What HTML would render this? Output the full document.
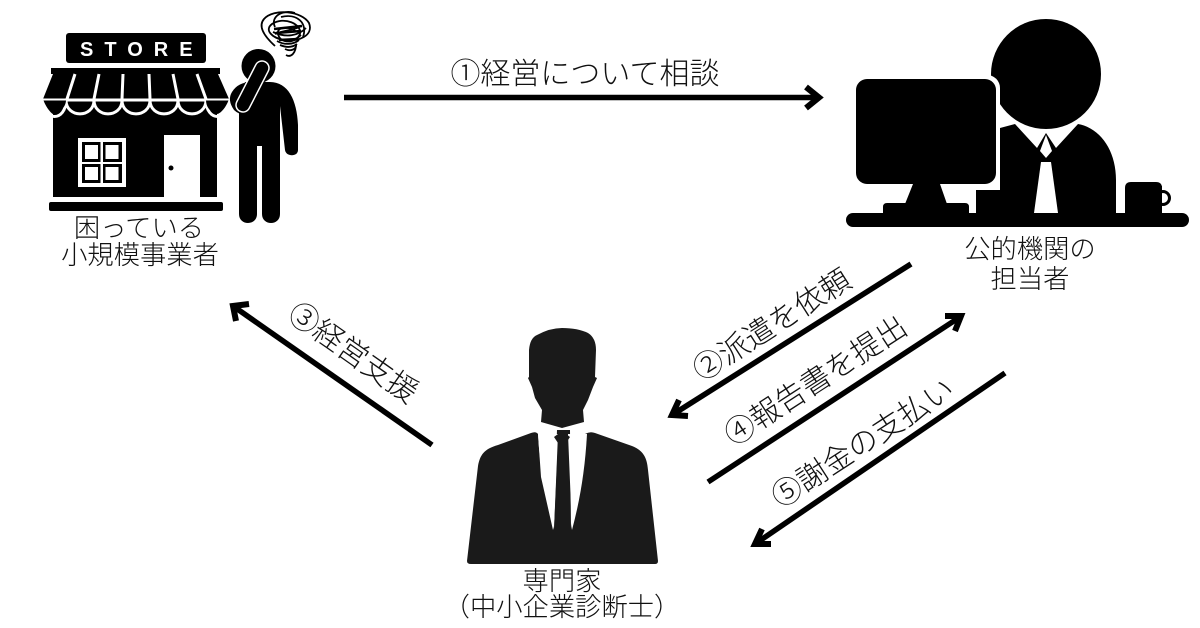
<!DOCTYPE html>
<html><head><meta charset="utf-8"><style>
html,body{margin:0;padding:0;background:#fff;width:1200px;height:628px;overflow:hidden}
svg{display:block}
text{font-family:"Liberation Sans","Noto Sans CJK JP",sans-serif;fill:#111;font-weight:300}
.r{font-weight:400}
</style></head><body>
<svg width="1200" height="628" viewBox="0 0 1200 628" xmlns="http://www.w3.org/2000/svg">
<!-- store -->
<rect x="66" y="33" width="140" height="30" rx="3" fill="#000"/>
<text x="80" y="56" font-size="20" style="fill:#fff;font-weight:700;font-family:'Liberation Sans',sans-serif" letter-spacing="11">STORE</text>
<rect x="51" y="68" width="169" height="6" fill="#000"/>
<path d="M53 74H218L229 99H43Z" fill="#000"/>
<rect x="53" y="104" width="164" height="93" fill="#000"/>
<g fill="#000" stroke="#fff" stroke-width="3">
<path d="M43 100H66C66 122 43 122 43 100Z" stroke-linejoin="round"/>
<path d="M66 100H94C94 118.500 66 118.500 66 100Z"/>
<path d="M94 100H122C122 118.500 94 118.500 94 100Z"/>
<path d="M122 100H150C150 118.500 122 118.500 122 100Z"/>
<path d="M150 100H178C178 118.500 150 118.500 150 100Z"/>
<path d="M178 100H206C206 118.500 178 118.500 178 100Z"/>
<path d="M206 100H229C229 122 206 122 206 100Z"/>
</g>
<rect x="40" y="99" width="13" height="24" fill="#fff"/>
<rect x="217" y="99" width="14" height="24" fill="#fff"/>
<path d="M43 99C46 108 52 114 53 114C60 112 66 107 66 100H43Z" fill="#000"/>
<path d="M229 99C226 108 220 114 217 114C210 112 206 107 206 100H229Z" fill="#000"/>
<path d="M75 74L67 99M99 74L94 99M123 74L122 99M149 74L150 99M173 74L178 99M197 74L206 99" stroke="#fff" stroke-width="3" fill="none"/>
<path d="M42 99.500H230" stroke="#fff" stroke-width="2"/>
<rect x="78" y="138" width="48" height="49" fill="#fff"/>
<rect x="82" y="142" width="18.500" height="20" fill="#000"/><rect x="103" y="142" width="19" height="20" fill="#000"/>
<rect x="82" y="164" width="18.500" height="19" fill="#000"/><rect x="103" y="164" width="19" height="19" fill="#000"/>
<rect x="85" y="145" width="13" height="14" fill="#fff"/><rect x="105.500" y="145" width="13" height="14" fill="#fff"/>
<rect x="85" y="167" width="13" height="13" fill="#fff"/><rect x="105.500" y="167" width="13" height="13" fill="#fff"/>
<rect x="164" y="135" width="36" height="62" fill="#fff"/>
<circle cx="171" cy="168" r="2.500" fill="#000"/>
<rect x="49" y="202" width="174" height="9" rx="2" fill="#000"/>
<!-- worried person -->
<circle cx="258.500" cy="66" r="17" fill="#000"/>
<path d="M239 100V214C239 226 257 226 257 214V146H262V214C262 226 280 226 280 214V106L285 150C286 157 298 157 298 150V125C297 100 288 82 270 82H245Z" fill="#000"/>
<path d="M232 92Q238 82 252 82L250 115Q240 116 234 110Q227 100 232 92Z" fill="#000"/>
<path d="M243 105L262 68" stroke="#fff" stroke-width="15.500" stroke-linecap="round" fill="none"/>
<path d="M243 105L262 68" stroke="#000" stroke-width="12.500" stroke-linecap="round" fill="none"/>
<g fill="none" stroke="#000" stroke-width="1.800">
<path d="M275 46C264 36 258 26 264 19C274 8 302 11 309 23C314 36 298 42 284 40C272 38 264 30 272 24C284 16 302 24 300 34C296 44 280 44 278 34C276 26 292 26 296 32"/>
<path d="M275 27C270 17 282 9 295 13M281 17C297 13 308 23 303 37M273 32C286 38 298 36 306 28M275 34C284 30 296 30 301 26"/>
<path d="M275 37C284 42 294 42 301 35M277 41C284 45 293 45 299 40M280 45C287 48 293 47 297 44M285 49C291 52 297 49 296 44C296 53 291 58 286 55"/>
</g>
<path d="M274 29L302 26M276 33L301 31M279 40L298 39" stroke="#000" stroke-width="2.500" fill="none"/>
<!-- official -->
<path d="M976 213V190H1000V128L1015 124H1078C1100 128 1116 150 1116 180V213Z" fill="#000"/>
<path d="M1015 124L1037 148L1046 133L1056 148L1078 124Z" fill="#fff"/>
<path d="M1046 135L1040 151L1046 158L1052 151Z" fill="#fff"/>
<path d="M1041 162H1051L1058 213H1034Z" fill="#fff"/>
<circle cx="1046" cy="74" r="55" fill="#000"/>
<rect x="852" y="75" width="148" height="113" rx="13" fill="#fff"/>
<rect x="856" y="79" width="140" height="105" rx="11" fill="#000"/>
<path d="M913 184H940L947 204H905Z" fill="#000"/>
<path d="M883 213V207Q883 203 887 203H965Q969 203 969 207V213Z" fill="#000"/>
<rect x="846" y="213" width="343" height="14" rx="7" fill="#000"/>
<path d="M1125 213V188Q1125 182 1131 182H1156Q1162 182 1162 188V213Z" fill="#000"/>
<circle cx="1163" cy="198" r="6.500" fill="#fff" stroke="#000" stroke-width="3"/>
<rect x="1150" y="186" width="12" height="27" fill="#000"/>
<!-- expert -->
<path d="M529 350Q530 338 537 335Q550 328 562 328Q578 328 588 333Q596 338 596 350L595 377L597 378L593 387L588 400L583 410L584 422L562 428L541 422L542 410L535 398L532 387L528 378L529 377Z" fill="#1a1a1a"/>
<path d="M467 561L478 466C480 455 484 449 498 445L531 433Q536 431 538 434L541 477L553 530L557 430H570L571 530L585 434Q590 431 595 433L632 446C642 450 647 456 648 470L658 561Q658 564 655 564H471Q467 564 467 561Z" fill="#1a1a1a"/>
<path d="M538 434H558L554 530C546 500 540 470 538 434Z" fill="#fff"/>
<path d="M587 434H568L572 530C580 500 585 470 587 434Z" fill="#fff"/>
<path d="M562 431L570 437L566 443L571 530H554L558 443L554 437Z" fill="#1a1a1a"/>
<!-- arrows -->
<g fill="none" stroke="#000" stroke-width="5.500" stroke-linejoin="miter">
<path d="M344 97.500H818"/><path d="M806 87L819 97.500L806 108" stroke-width="6"/>
<path d="M911 264L672 415"/><path d="M688 416L672 415L679 400" stroke-width="6"/>
<path d="M708 482L960 317"/><path d="M945 316L961 316L955 331" stroke-width="6"/>
<path d="M1005 373L755 544"/><path d="M771 544L755 544L762 529" stroke-width="6"/>
<path d="M432 445L233 306"/><path d="M249 304L233 306L236 321" stroke-width="6"/>
</g>
<!-- labels -->
<g font-size="26.300" text-anchor="middle">
<text x="139" y="237">困っている</text>
<text x="140" y="264">小規模事業者</text>
<text x="1030" y="258">公的機関の</text>
<text x="1030" y="288">担当者</text>
<text x="562" y="590">専門家</text>
<text x="562" y="616">（中小企業診断士）</text>
</g>
<g font-size="30" text-anchor="middle" class="r">
<text x="585" y="84">①経営について相談</text>
<text transform="translate(772 325) rotate(-32.500)" y="10">②派遣を依頼</text>
<text transform="translate(816 381) rotate(-33)" y="10">④報告書を提出</text>
<text transform="translate(863 443) rotate(-33)" y="10">⑤謝金の支払い</text>
<text transform="translate(353 353) rotate(35)" y="10">③経営支援</text>
</g>
</svg>
</body></html>
